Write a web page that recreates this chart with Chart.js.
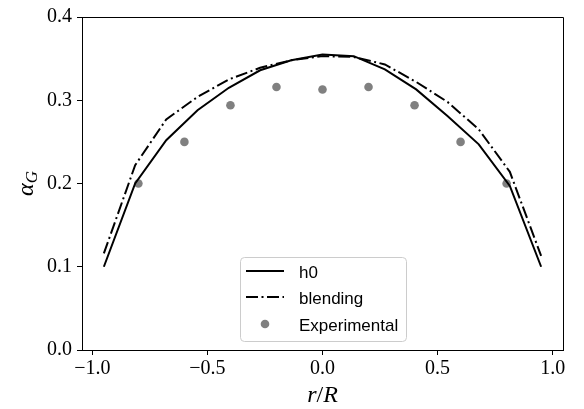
<!DOCTYPE html>
<html>
<head>
<meta charset="utf-8">
<script src="https://cdn.jsdelivr.net/npm/chart.js@4"></script>
<style>
  body { margin: 0; background: #fff; }
</style>
</head>
<body>
<canvas id="chart" width="584" height="409"></canvas>
<script>
// radial positions of the simulation cells
const rGrid = [-0.95, -0.814, -0.679, -0.543, -0.407, -0.271, -0.136, 0, 0.136, 0.271, 0.407, 0.543, 0.679, 0.814, 0.95];
const h0 = [0.100, 0.200, 0.252, 0.288, 0.315, 0.336, 0.348, 0.355, 0.353, 0.337, 0.313, 0.281, 0.247, 0.197, 0.100];
const blending = [0.116, 0.222, 0.277, 0.304, 0.325, 0.339, 0.348, 0.353, 0.352, 0.343, 0.322, 0.298, 0.265, 0.214, 0.113];

// experimental measurements
const rExp = [-0.8, -0.6, -0.4, -0.2, 0, 0.2, 0.4, 0.6, 0.8];
const alphaExp = [0.200, 0.250, 0.294, 0.316, 0.313, 0.316, 0.294, 0.250, 0.200];

const xTicks = [-1.0, -0.5, 0.0, 0.5, 1.0];
const yTicks = [0.0, 0.1, 0.2, 0.3, 0.4];

const serif = "'Liberation Serif', 'DejaVu Serif', serif";
const sans = "'Liberation Sans', 'DejaVu Sans', sans-serif";
const dashDot = [12, 3.5, 2, 3.5];

const toPoints = (xs, ys) => xs.map((x, i) => ({ x: x, y: ys[i] }));
const fmt = v => v.toFixed(1).replace('-', '\u2212');

// matplotlib-style closed frame (top and right spines)
const framePlugin = {
  id: 'frame',
  afterDraw(chart) {
    const { ctx, chartArea: a } = chart;
    ctx.save();
    ctx.strokeStyle = '#000';
    ctx.lineWidth = 1;
    ctx.beginPath();
    ctx.moveTo(a.left, a.top + 0.5);
    ctx.lineTo(a.right + 0.5, a.top + 0.5);
    ctx.lineTo(a.right + 0.5, a.bottom);
    ctx.stroke();
    ctx.restore();
  }
};

// axis labels with math-style italics
const axisLabels = {
  id: 'axisLabels',
  afterDraw(chart) {
    const { ctx, chartArea: a } = chart;
    ctx.save();
    ctx.fillStyle = '#000';
    ctx.textBaseline = 'alphabetic';

    // x label: r/R
    const parts = [
      { t: 'r', f: 'italic 24px ' + serif },
      { t: '/', f: '24px ' + serif },
      { t: 'R', f: 'italic 24px ' + serif }
    ];
    let total = 0;
    parts.forEach(p => { ctx.font = p.f; p.w = ctx.measureText(p.t).width; total += p.w; });
    let x = (a.left + a.right) / 2 - total / 2;
    parts.forEach(p => { ctx.font = p.f; ctx.fillText(p.t, x, 402); x += p.w; });

    // y label: alpha_G, rotated
    ctx.translate(33, (a.top + a.bottom) / 2);
    ctx.rotate(-Math.PI / 2);
    ctx.font = 'italic 24px ' + serif;
    const wa = ctx.measureText('\u03b1').width;
    ctx.font = 'italic 17px ' + serif;
    const wg = ctx.measureText('G').width;
    const start = -(wa + wg) / 2;
    ctx.font = 'italic 24px ' + serif;
    ctx.fillText('\u03b1', start, 0);
    ctx.font = 'italic 17px ' + serif;
    ctx.fillText('G', start + wa, 4);
    ctx.restore();
  }
};

// legend box placed inside the plot like matplotlib's 'best'
const legendBox = {
  id: 'legendBox',
  afterDraw(chart) {
    const ctx = chart.ctx;
    const ds = chart.data.datasets;
    ctx.save();
    ctx.beginPath();
    ctx.roundRect(240.5, 257.5, 166, 84, 4);
    ctx.fillStyle = 'rgba(255,255,255,0.8)';
    ctx.fill();
    ctx.strokeStyle = '#cccccc';
    ctx.lineWidth = 1;
    ctx.stroke();

    const rows = [271, 297, 324];
    ds.forEach((d, i) => {
      const y = rows[i];
      if (d.showLine) {
        ctx.beginPath();
        ctx.setLineDash(d.borderDash || []);
        ctx.strokeStyle = d.borderColor;
        ctx.lineWidth = d.borderWidth;
        ctx.moveTo(246, y);
        ctx.lineTo(284, y);
        ctx.stroke();
        ctx.setLineDash([]);
      } else {
        ctx.beginPath();
        ctx.fillStyle = d.backgroundColor;
        ctx.arc(265, y, d.pointRadius, 0, Math.PI * 2);
        ctx.fill();
      }
      ctx.fillStyle = '#000';
      ctx.font = '17px ' + sans;
      ctx.textBaseline = 'alphabetic';
      ctx.fillText(d.label, 299, y + 7);
    });
    ctx.restore();
  }
};

new Chart(document.getElementById('chart'), {
  type: 'scatter',
  data: {
    datasets: [
      {
        label: 'h0',
        data: toPoints(rGrid, h0),
        showLine: true,
        borderColor: '#000',
        borderWidth: 2,
        pointRadius: 0,
        fill: false
      },
      {
        label: 'blending',
        data: toPoints(rGrid, blending),
        showLine: true,
        borderColor: '#000',
        borderWidth: 2,
        borderDash: dashDot,
        pointRadius: 0,
        fill: false
      },
      {
        label: 'Experimental',
        data: toPoints(rExp, alphaExp),
        showLine: false,
        backgroundColor: '#808080',
        borderWidth: 0,
        pointRadius: 4.3
      }
    ]
  },
  options: {
    responsive: false,
    animation: false,
    layout: { padding: { top: 14, right: 21, left: 0, bottom: 0 } },
    plugins: {
      legend: { display: false },
      tooltip: { enabled: false }
    },
    scales: {
      x: {
        type: 'linear',
        min: -1.045,
        max: 1.045,
        afterBuildTicks: s => { s.ticks = xTicks.map(v => ({ value: v })); },
        afterFit: s => { s.height = 59; },
        ticks: {
          color: '#000',
          padding: 2,
          maxRotation: 0,
          font: { family: serif, size: 20 },
          callback: v => fmt(v)
        },
        grid: { drawOnChartArea: false, drawTicks: true, tickLength: 5, color: '#000' },
        border: { color: '#000', width: 1 }
      },
      y: {
        min: 0,
        max: 0.4,
        afterBuildTicks: s => { s.ticks = yTicks.map(v => ({ value: v })); },
        afterFit: s => { s.width = 82; },
        ticks: {
          color: '#000',
          padding: 5,
          font: { family: serif, size: 20 },
          callback: v => fmt(v)
        },
        grid: { drawOnChartArea: false, drawTicks: true, tickLength: 5, color: '#000' },
        border: { color: '#000', width: 1 }
      }
    }
  },
  plugins: [framePlugin, axisLabels, legendBox]
});
</script>
</body>
</html>
